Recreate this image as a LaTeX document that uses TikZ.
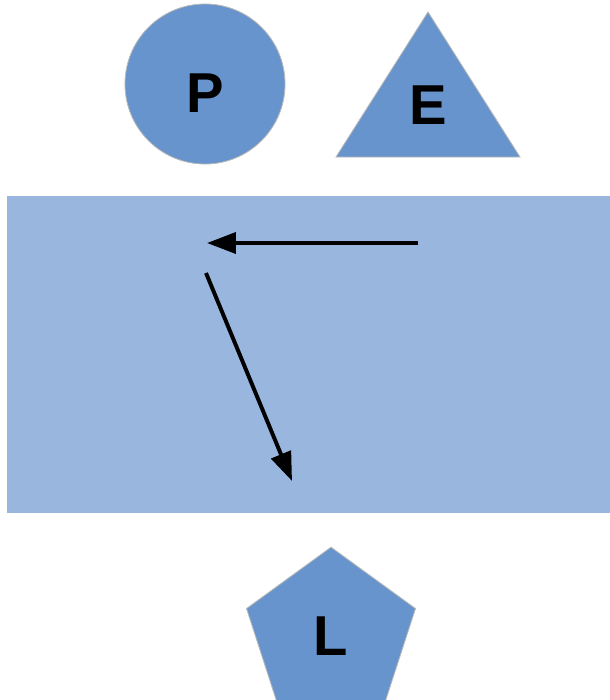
\documentclass[tikz,border=0pt]{standalone}
\usepackage{fontspec}
\setmainfont{Liberation Sans}
\usetikzlibrary{shapes.geometric,arrows.meta}
\definecolor{shapeblue}{RGB}{103,148,204}
\definecolor{boxblue}{RGB}{153,183,222}
\tikzset{blob/.style={fill=shapeblue,draw=gray!55,line width=0.6pt,inner sep=0pt},
    letter/.style={font=\fontsize{40}{40}\selectfont\bfseries,inner sep=0pt},
    move/.style={->,line width=2.8pt}}

\begin{document}
\begin{tikzpicture}[x=0.025cm,y=-0.025cm,>={Triangle[length=0.72cm,width=0.52cm]}]
    \useasboundingbox (0,0) rectangle (610,700);
    \clip (0,0) rectangle (610,700);

    \node[blob,circle,minimum size=4cm] (p) at (205,84) {};
    \node[letter] (ptxt) at (205,93) {P};
    \draw[blob] (428,12) -- (520,157) -- (336,157) -- cycle;
    \node[letter] (etxt) at (428,105) {E};

    \fill[boxblue] (7,196) rectangle (615,513);

    \node[blob,regular polygon,regular polygon sides=5,minimum size=4.44cm,letter] (l) at (331,636) {L};

    \coordinate (s1) at (418,243);
    \coordinate (t1) at (207,243);
    \coordinate (s2) at (206,273);
    \coordinate (t2) at (292,481);
    \draw [move] (s1) to (t1);
    \draw [move] (s2) to (t2);
\end{tikzpicture}
\end{document}
